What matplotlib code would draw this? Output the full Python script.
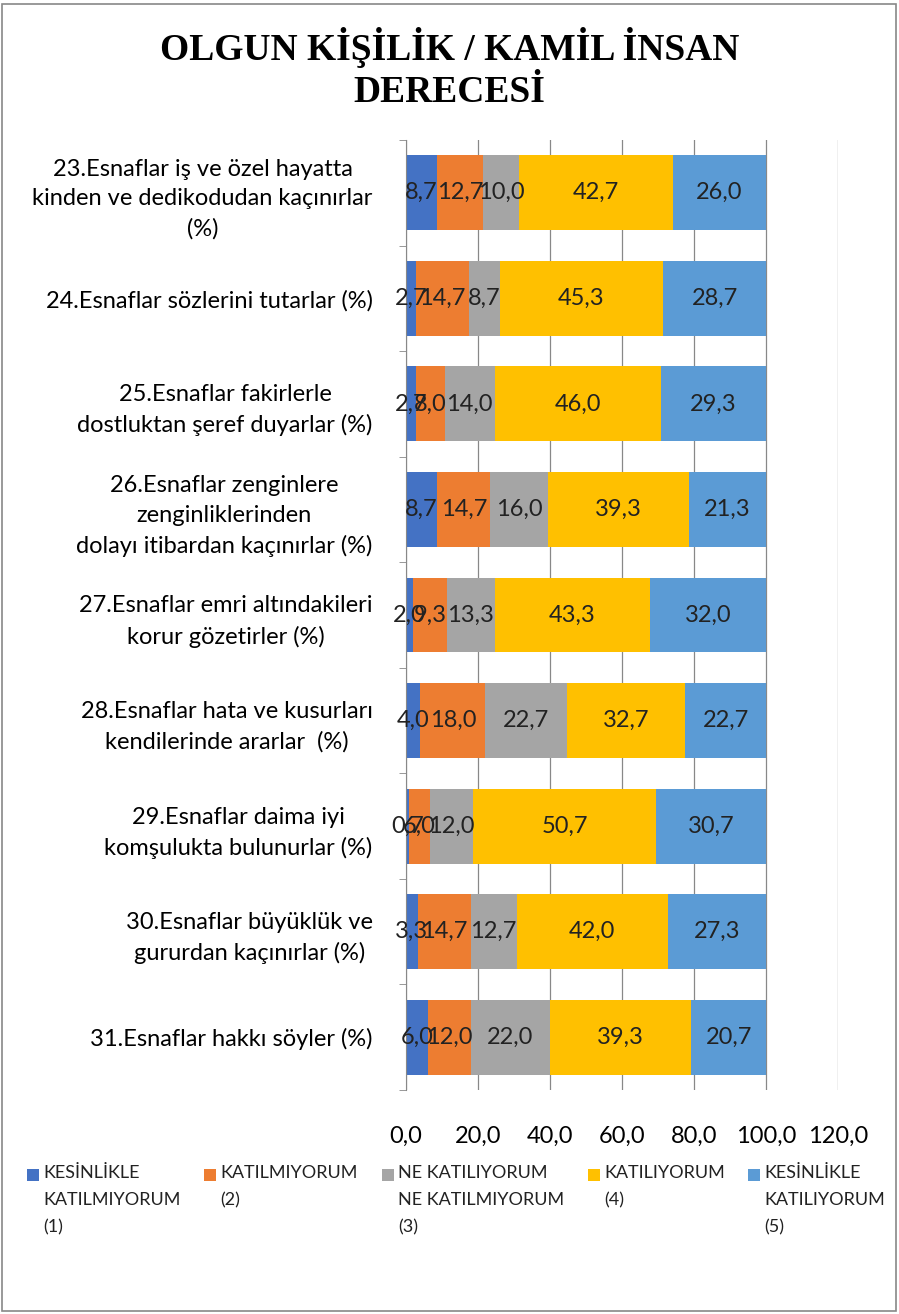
import matplotlib
matplotlib.use("Agg")
import matplotlib.pyplot as plt
from matplotlib.patches import Rectangle
import numpy as np

categories = [
    "23.Esnaflar iş ve özel hayatta\nkinden ve dedikodudan kaçınırlar\n(%)",
    "24.Esnaflar sözlerini tutarlar (%)",
    "25.Esnaflar fakirlerle\ndostluktan şeref duyarlar (%)",
    "26.Esnaflar zenginlere\nzenginliklerinden\ndolayı itibardan kaçınırlar (%)",
    "27.Esnaflar emri altındakileri\nkorur gözetirler (%)",
    "28.Esnaflar hata ve kusurları\nkendilerinde ararlar  (%)",
    "29.Esnaflar daima iyi\nkomşulukta bulunurlar (%)",
    "30.Esnaflar büyüklük ve\ngururdan kaçınırlar (%)",
    "31.Esnaflar hakkı söyler (%)",
]
s1 = [8.7, 2.7, 2.7, 8.7, 2.0, 4.0, 0.7, 3.3, 6.0]
s2 = [12.7, 14.7, 8.0, 14.7, 9.3, 18.0, 6.0, 14.7, 12.0]
s3 = [10.0, 8.7, 14.0, 16.0, 13.3, 22.7, 12.0, 12.7, 22.0]
s4 = [42.7, 45.3, 46.0, 39.3, 43.3, 32.7, 50.7, 42.0, 39.3]
s5 = [26.0, 28.7, 29.3, 21.3, 32.0, 22.7, 30.7, 27.3, 20.7]
series_names = [
    "KESİNLİKLE\nKATILMIYORUM\n(1)",
    "KATILMIYORUM\n(2)",
    "NE KATILIYORUM\nNE KATILMIYORUM\n(3)",
    "KATILIYORUM\n(4)",
    "KESİNLİKLE\nKATILIYORUM\n(5)",
]
colors = ["#4472C4", "#ED7D31", "#A5A5A5", "#FFC000", "#5B9BD5"]
xticks = [0, 20, 40, 60, 80, 100, 120]

plt.rcParams['font.family'] = ['Lato', 'DejaVu Sans']

fig = plt.figure(figsize=(8.99, 13.14), dpi=100)
ax = fig.add_axes([406/899, 1 - 1090/1314, (838-406)/899, (1090-140)/1314])

y = np.arange(len(categories))
left = np.zeros(len(categories))
for vals, c, name in zip([s1, s2, s3, s4, s5], colors, series_names):
    vals = np.array(vals)
    bars = ax.barh(y, vals, left=left, height=0.71, color=c, label=name, zorder=2)
    for b, v in zip(bars, vals):
        ax.text(b.get_x() + b.get_width()/2, b.get_y() + b.get_height()/2,
                f"{v:.1f}".replace(".", ","), ha='center', va='center',
                fontsize=17, color='#222222', zorder=3)
    left += vals

ax.set_ylim(len(categories) - 0.5, -0.5)
ax.set_xlim(0, 120)
ax.set_xticks(xticks)
ax.set_xticklabels([f"{t:.1f}".replace(".", ",") for t in xticks], fontsize=17)
ax.set_yticks(y)
ax.set_yticklabels(categories, fontsize=17, multialignment='center', linespacing=1.5)
ax.tick_params(axis='y', length=0, pad=24)
ax.tick_params(axis='x', length=0, pad=26)
ax.set_yticks(np.arange(len(categories) + 1) - 0.5, minor=True)
ax.tick_params(axis='y', which='minor', length=5, color='#888888')
ax.grid(axis='x', color='#888888', linewidth=0.9, zorder=0)
for s in ['top', 'right', 'bottom']:
    ax.spines[s].set_visible(False)
ax.spines['left'].set_color('#888888')

fig.text(0.5, 1 - 48/1314, "OLGUN KİŞİLİK / KAMİL İNSAN", ha='center', va='center',
         fontsize=27, fontweight='bold', family='Liberation Serif')
fig.text(0.5, 1 - 92/1314, "DERECESİ", ha='center', va='center',
         fontsize=27, fontweight='bold', family='Liberation Serif')

# legend (manual layout to mimic Excel's wrapped legend entries)
leg_x = [27, 204, 382, 588, 748]
leg_y = 1175
for x0, c, name in zip(leg_x, colors, series_names):
    fig.patches.append(Rectangle((x0/899, 1 - (leg_y + 6)/1314), 12/899, 12/1314,
                                 transform=fig.transFigure, facecolor=c, edgecolor='none'))
    fig.text((x0 + 16)/899, 1 - (leg_y - 10)/1314, name, ha='left', va='top',
             fontsize=13, linespacing=1.85, color='#222222')

fig.patches.append(Rectangle((0.002, 0.002), 0.995, 0.995, transform=fig.transFigure,
                             fill=False, edgecolor='#888888', linewidth=1.2))

fig.savefig("out.png", dpi=100)
